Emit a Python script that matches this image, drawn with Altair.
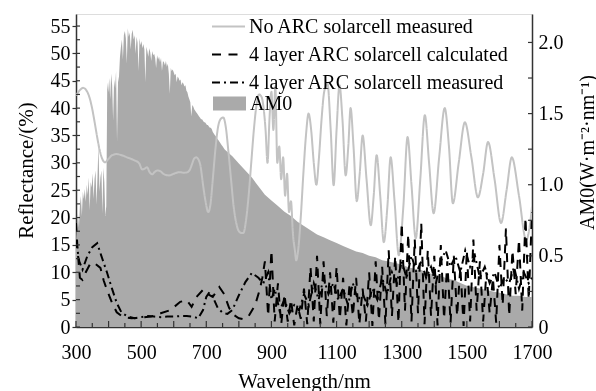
import altair as alt
import pandas as pd

# ---------------- data ----------------
# AM0 spectrum (W m^-2 nm^-1)
am0_wl_fine_start, am0_wl_fine_step = 300, 3
am0_fine = [
    0.60, 0.72, 0.80, 0.70, 0.85, 0.92, 0.78, 0.95, 0.90, 0.97,
    0.88, 1.00, 0.93, 1.05, 0.82, 1.02, 0.98, 1.08, 0.90, 1.04,
    1.10, 0.86, 1.06, 1.28, 0.95, 1.05, 1.10, 0.80, 1.12, 1.02,
    0.78, 0.85, 1.72, 1.65, 1.75, 1.60, 1.78, 1.70, 1.45, 1.74,
    1.68, 1.80, 1.30, 1.72, 1.76, 1.90, 1.97, 2.02, 1.88, 2.05,
    2.08, 2.03, 1.85, 2.10, 2.04, 2.07, 1.95, 2.06, 2.09, 2.02,
    2.05, 1.92, 2.04, 2.00, 1.80, 2.03, 1.98, 2.01, 1.96, 1.99,
    1.95, 1.72, 1.97, 1.94, 1.90, 1.96, 1.93, 1.87, 1.94, 1.91,
    1.92, 1.89, 1.82, 1.91, 1.88, 1.90, 1.86, 1.89, 1.80, 1.87,
    1.86, 1.84, 1.87, 1.83, 1.85, 1.78, 1.64, 1.82, 1.80, 1.81,
    1.79, 1.77, 1.78, 1.72, 1.76, 1.75, 1.73, 1.74, 1.70, 1.72,
    1.71, 1.69, 1.70, 1.66, 1.65, 1.62, 1.60, 1.58, 1.48, 1.56,
    1.55, 1.53, 1.52, 1.51, 1.50, 1.49, 1.48, 1.47, 1.46, 1.46,
    1.45, 1.44, 1.44, 1.43, 1.42, 1.42, 1.41, 1.40, 1.40, 1.39,
    1.37, 1.36, 1.35, 1.34, 1.33, 1.32, 1.31, 1.30, 1.29, 1.28,
    1.27, 1.26, 1.25,
]
am0_coarse_wl = list(range(760, 1701, 20))
am0_coarse = [
    1.24, 1.20, 1.15, 1.10, 1.05, 0.99, 0.93, 0.89, 0.85, 0.81,
    0.78, 0.74, 0.71, 0.68, 0.65, 0.63, 0.61, 0.59, 0.57, 0.55,
    0.53, 0.52, 0.50, 0.49, 0.47, 0.46, 0.45, 0.44, 0.42, 0.41,
    0.40, 0.38, 0.37, 0.36, 0.34, 0.33, 0.31, 0.29, 0.28, 0.27,
    0.26, 0.25, 0.24, 0.23, 0.22, 0.22, 0.21, 0.21,
]

# No ARC solar cell, measured reflectance (%)
noarc_wl = [300, 312, 322, 330, 340, 349, 357, 365, 372, 380, 389, 398, 411, 425, 440,
            457, 470, 478, 494, 503, 510, 518, 526, 534, 541, 549, 558, 571, 586, 600,
            617, 632, 642, 650, 657, 663, 669, 676, 682, 690, 697, 706, 713, 720, 728,
            736, 744, 752, 760, 768, 776, 784, 792, 800, 808, 814, 822, 830, 838, 846,
            854, 862, 870, 876, 882, 888, 894, 900, 906, 912, 918, 924, 930, 936, 942,
            948, 954, 960, 966, 972, 976, 982, 990, 998, 1006, 1014, 1022, 1030, 1038,
            1046, 1054, 1062, 1072, 1082, 1091, 1100, 1109, 1118, 1128, 1136, 1143,
            1152, 1162, 1171, 1180, 1192, 1205, 1214, 1223, 1234, 1245, 1256, 1266,
            1278, 1291, 1305, 1318, 1330, 1343, 1357, 1371, 1384, 1398, 1415, 1432,
            1445, 1457, 1475, 1494, 1514, 1534, 1550, 1565, 1585, 1605, 1622, 1638,
            1660, 1682, 1692, 1700]
noarc_val = [42.3, 43.3, 43.7, 43.4, 42.2, 40.1, 37.5, 34.7, 32.5, 30.8, 30.1, 30.6, 31.4, 31.6, 31.4,
             31.0, 30.7, 30.5, 29.9, 28.8, 28.9, 29.2, 28.3, 27.9, 28.3, 28.6, 28.5, 27.9, 27.7, 28.0,
             28.3, 28.2, 28.3, 28.8, 29.9, 30.8, 31.0, 30.6, 29.5, 26.0, 23.2, 21.0, 22.5, 27.0, 32.5,
             36.5, 38.0, 38.3, 36.5, 32.0, 27.0, 22.0, 19.0, 17.5, 17.2, 17.2, 19.5, 24.0, 30.0, 36.0,
             40.5, 42.5, 42.0, 40.0, 36.0, 30.0, 38.0, 43.0, 36.0, 44.0, 30.0, 33.0, 27.0, 31.0, 24.0,
             28.0, 21.0, 23.0, 17.0, 14.0, 12.2, 14.0, 20.0, 28.0, 35.0, 39.0, 36.0, 30.0, 26.0,
             31.0, 38.0, 43.0, 44.5, 36.0, 25.9, 36.0, 44.2, 38.0, 27.7, 33.0, 40.0,
             33.0, 23.0, 28.0, 35.0, 27.0, 18.6, 24.0, 31.4, 24.0, 15.5, 22.0, 31.0,
             23.0, 13.1, 22.0, 34.7, 26.0, 16.2, 27.0, 38.7, 30.0, 20.8, 31.0, 40.0,
             33.0, 22.6, 30.0, 37.4, 31.0, 23.7, 28.0, 33.8, 27.0, 19.0, 25.0, 31.0,
             24.0, 15.9, 18.0, 22.0]

# 4 layer ARC solar cell, calculated reflectance (%)
calc_wl = [300, 305, 312, 320, 330, 345, 360, 375, 385, 395, 410, 425, 445, 470, 500,
           530, 560, 590, 620, 640, 655, 670, 690, 705, 720, 740, 755, 770, 785, 800,
           815, 830, 850, 865, 872,
           880, 890, 900, 910, 920, 930, 940, 950, 960, 970, 980, 990, 1000, 1010, 1020,
           1030, 1040, 1050, 1060, 1070, 1080, 1090, 1100, 1110, 1120, 1130, 1140, 1150,
           1160, 1170, 1180, 1190, 1200, 1210, 1220, 1230, 1240, 1250, 1260, 1270, 1280,
           1290, 1300, 1310, 1320, 1330, 1340, 1350, 1360, 1370, 1380, 1390, 1400, 1410,
           1420, 1430, 1440, 1450, 1460, 1470, 1480, 1490, 1500, 1510, 1520, 1530, 1540,
           1550, 1560, 1570, 1580, 1590, 1600, 1610, 1620, 1630, 1640, 1650, 1660, 1670,
           1680, 1690, 1700]
calc_val = [19.0, 14.0, 9.0, 8.6, 10.0, 11.7, 11.5, 10.8, 8.5, 6.8, 4.5, 2.7, 1.8, 1.6, 1.7,
            1.9, 2.5, 3.1, 4.6, 4.9, 3.7, 5.5, 6.8, 6.0, 5.5, 7.3, 6.0, 3.5, 2.2, 1.6,
            1.4, 2.0, 4.0, 7.0, 9.0,
            12.0, 2.0, 14.0, 1.0, 8.0, 0.5, 6.0, 1.0, 5.0, 0.3, 4.0, 1.5, 7.0, 0.5, 11.0,
            1.0, 13.0, 0.5, 12.0, 2.0, 10.0, 0.8, 11.0, 1.5, 9.0, 0.3, 8.0, 2.0,
            9.0, 0.5, 7.0, 1.0, 10.0, 0.2, 12.0, 1.2, 11.0, 0.5, 14.0, 2.0, 13.0,
            0.8, 19.0, 3.0, 17.0, 1.0, 16.0, 2.5, 19.0, 0.5, 14.0, 2.0, 13.0, 0.3,
            15.0, 1.5, 12.0, 0.8, 13.0, 2.0, 11.0, 0.2, 14.0, 1.0, 16.0, 3.0, 12.0,
            1.0, 10.0, 2.5, 9.0, 0.8, 15.0, 4.0, 18.0, 2.0, 14.0, 6.0, 16.0, 3.0,
            20.0, 5.0, 21.0]

# 4 layer ARC solar cell, measured reflectance (%)
meas_wl = [300, 310, 320, 335, 350, 365, 380, 395, 410, 425, 440, 460, 480, 500, 520,
           540, 560, 580, 600, 620, 640, 660, 675, 690, 700, 710, 720, 735, 750, 765,
           780, 800, 820, 840, 860, 875,
           890, 900, 910, 925, 940, 955, 970, 985, 1000, 1015, 1030, 1045, 1060, 1075,
           1090, 1105, 1120, 1135, 1150, 1165, 1180, 1195, 1210, 1225, 1240, 1255, 1270,
           1285, 1300, 1315, 1330, 1345, 1360, 1375, 1390, 1405, 1420, 1435, 1450, 1465,
           1480, 1495, 1510, 1525, 1540, 1555, 1570, 1585, 1600, 1615, 1630, 1645, 1660,
           1675, 1690, 1700]
meas_val = [15.9, 12.0, 10.5, 13.0, 14.6, 15.3, 12.6, 10.0, 7.1, 4.4, 2.6, 1.9, 1.6, 1.8, 2.0,
            1.9, 1.8, 1.9, 1.9, 2.0, 2.0, 1.9, 1.6, 3.1, 5.5, 6.4, 5.5, 3.5, 2.6, 2.4,
            3.1, 5.8, 8.2, 9.9, 9.0, 8.0,
            10.0, 5.0, 7.0, 3.0, 5.0, 2.5, 4.0, 3.0, 6.0, 4.0, 8.0, 5.0, 9.0, 6.0,
            8.0, 5.0, 7.0, 4.0, 8.0, 5.0, 6.0, 4.0, 7.0, 5.0, 9.0, 6.0, 10.0,
            8.0, 12.0, 9.0, 13.0, 10.0, 12.0, 9.0, 11.0, 8.0, 12.0, 14.0, 11.0, 13.0,
            10.0, 14.0, 11.0, 13.0, 9.0, 11.0, 8.0, 10.0, 7.0, 9.0, 8.0, 11.0, 7.0,
            10.0, 8.0, 9.0]

series_names = ["No ARC solarcell measured",
                "4 layer ARC solarcell calculated",
                "4 layer ARC solarcell measured"]

left_ticks = [i * 2.5 for i in range(23)]
right_ticks = [i * 0.25 for i in range(9)]
x_major_ticks = list(range(300, 1701, 100))
x_minor_ticks = list(range(350, 1700, 100))
x_label_values = [300, 500, 700, 900, 1100, 1300, 1500, 1700]

# ---------------- frames ----------------
am0_wl = [am0_wl_fine_start + am0_wl_fine_step * i for i in range(len(am0_fine))] + am0_coarse_wl
am0_df = pd.DataFrame({"wl": am0_wl, "v": am0_fine + am0_coarse, "name": "AM0"})
noarc_df = pd.DataFrame({"wl": noarc_wl, "v": noarc_val, "series": series_names[0]})
calc_df = pd.DataFrame({"wl": calc_wl, "v": calc_val, "series": series_names[1]})
meas_df = pd.DataFrame({"wl": meas_wl, "v": meas_val, "series": series_names[2]})

W, H = 456, 313
FONT = "Liberation Serif"
AX = "#333333"

xs = alt.Scale(domain=[300, 1700], nice=False, zero=False)
yl = alt.Scale(domain=[0, 57.2], nice=False)
yr = alt.Scale(domain=[0, 2.2], nice=False)

color_scale = alt.Scale(domain=series_names, range=["#c3c3c3", "#000000", "#000000"])
dash_scale = alt.Scale(domain=series_names, range=[[1, 0], [9, 7.5], [8, 4, 2, 4]])

line_legend = alt.Legend(title=None, orient="none", legendX=135, legendY=-5,
                         symbolType="stroke", symbolSize=1089, symbolStrokeWidth=2,
                         labelFont=FONT, labelFontSize=20, labelColor="black", labelLimit=400,
                         labelOffset=3, rowPadding=-2.5, padding=0)

x_axis = alt.Axis(values=x_label_values, title="Wavelength/nm", orient="bottom", ticks=False,
                  labelPadding=15, labelFlush=False, labelFont=FONT, labelFontSize=20,
                  labelColor="black",
                  titleFont=FONT, titleFontSize=21, titleFontWeight="normal", titleColor="black",
                  titleY=60, titleBaseline="alphabetic", domainColor=AX, domainWidth=1.5,
                  grid=False, labelExpr="format(datum.value, 'd')")

left_axis = alt.Axis(values=list(range(0, 56, 5)), title="Reflectance/(%)", orient="left",
                     tickSize=4, tickColor=AX, tickWidth=1.2, labelPadding=2,
                     labelFont=FONT, labelFontSize=20, labelColor="black",
                     titleFont=FONT, titleFontSize=21, titleFontWeight="normal", titleColor="black",
                     titleX=-44, titleY=156, titleAngle=270, titleBaseline="alphabetic",
                     titleAlign="center", domainColor=AX, domainWidth=1.5, grid=False)

right_axis = alt.Axis(values=[0, 0.5, 1.0, 1.5, 2.0], title="AM0(W·m⁻²·nm⁻¹)", orient="right",
                      ticks=False, labelPadding=6,
                      labelExpr="datum.value == 0 ? '0' : format(datum.value, '.1f')",
                      labelFont=FONT, labelFontSize=20, labelColor="black",
                      titleFont=FONT, titleFontSize=20, titleFontWeight="normal", titleColor="black",
                      titleX=61, titleY=138, titleAngle=270, titleBaseline="alphabetic",
                      titleAlign="center", domainColor=AX, domainWidth=1.5, grid=False)


def line_layer(df, interp="linear", blend=None, axis_x=None, axis_y=None):
    kw = {}
    if blend:
        kw["blend"] = blend
    return alt.Chart(df).mark_line(strokeWidth=2, clip=True, interpolate=interp, **kw).encode(
        x=alt.X("wl:Q", scale=xs, axis=axis_x),
        y=alt.Y("v:Q", scale=yl, axis=axis_y),
        color=alt.Color("series:N", scale=color_scale, legend=line_legend),
        strokeDash=alt.StrokeDash("series:N", scale=dash_scale, legend=line_legend),
    )


area = alt.Chart(am0_df).mark_area(interpolate="linear", clip=True).encode(
    x=alt.X("wl:Q", scale=xs, axis=x_axis),
    y=alt.Y("v:Q", scale=yr, axis=right_axis),
    fill=alt.Fill("name:N", scale=alt.Scale(domain=["AM0"], range=["#aaaaaa"]),
                  legend=alt.Legend(title=None, orient="none", legendX=137, legendY=73,
                                    symbolType="M-1,-0.42H1V0.42H-1Z", symbolSize=1089,
                                    symbolStrokeWidth=0, labelFont=FONT, labelFontSize=20,
                                    labelColor="black", labelOffset=4, padding=0)),
)

rt_df = pd.DataFrame({"v": right_ticks})
right_tick_marks = alt.Chart(rt_df).mark_rule(color=AX, strokeWidth=1.2).encode(
    y=alt.Y("v:Q", scale=yr, axis=None), x=alt.value(W), x2=alt.value(W - 4))

lt_df = pd.DataFrame({"v": left_ticks})
left_tick_marks = alt.Chart(lt_df).mark_rule(color=AX, strokeWidth=1.2).encode(
    y=alt.Y("v:Q", scale=yl, axis=None), x=alt.value(0), x2=alt.value(4))

xmaj_df = pd.DataFrame({"w": x_major_ticks})
xmin_df = pd.DataFrame({"w": x_minor_ticks})
x_major_marks = alt.Chart(xmaj_df).mark_rule(color=AX, strokeWidth=1.2).encode(
    x=alt.X("w:Q", scale=xs, axis=x_axis), y=alt.value(H), y2=alt.value(H - 6))
x_minor_marks = alt.Chart(xmin_df).mark_rule(color=AX, strokeWidth=1.2).encode(
    x=alt.X("w:Q", scale=xs, axis=x_axis), y=alt.value(H), y2=alt.value(H - 4))

chart = alt.layer(
    area,
    line_layer(noarc_df, interp="monotone", blend="multiply", axis_x=x_axis, axis_y=left_axis),
    line_layer(calc_df, axis_x=x_axis),
    line_layer(meas_df, axis_x=x_axis),
    right_tick_marks, left_tick_marks, x_major_marks, x_minor_marks,
).resolve_scale(y="independent").properties(
    width=W, height=H,
    autosize=alt.AutoSizeParams(type="none"),
    padding={"left": 76, "top": 14, "right": 64, "bottom": 64},
).configure_view(stroke=AX, strokeWidth=1.5).configure(background="white")

chart.save("out.html", embed_options={"renderer": "svg", "actions": False})
